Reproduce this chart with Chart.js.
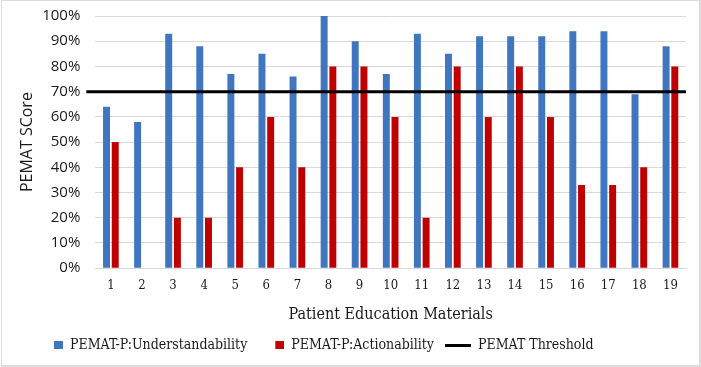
<!DOCTYPE html>
<html>
<head>
<meta charset="utf-8">
<script src="https://cdn.jsdelivr.net/npm/chart.js@4"></script>
<style>
    body { margin: 0; background: #fff; }
    #wrap { position: relative; width: 701px; height: 367px; }
    #frame {
        position: absolute; left: 1px; top: 0px; width: 697px; height: 364px;
        border: 1px solid #dcdcdc; border-right-width: 2px; border-bottom-width: 2px;
        pointer-events: none;
    }
</style>
</head>
<body>
<div id="wrap">
    <canvas id="pematChart" width="701" height="367"></canvas>
    <div id="frame"></div>
</div>
<script>
const materials = ['1', '2', '3', '4', '5', '6', '7', '8', '9', '10',
    '11', '12', '13', '14', '15', '16', '17', '18', '19'];
const understandability = [64, 58, 93, 88, 77, 85, 76, 100, 90, 77, 93, 85, 92, 92, 92, 94, 94, 69, 88];
const actionability = [50, 0, 20, 20, 40, 60, 40, 80, 80, 60, 20, 80, 60, 80, 60, 33, 33, 40, 80];
const threshold = 70;
const yTicks = [0, 10, 20, 30, 40, 50, 60, 70, 80, 90, 100];

document.addEventListener('DOMContentLoaded', function () {
    const serif = "'DejaVu Serif Condensed', 'DejaVu Serif', serif";
    const sans = "'Open Sans', sans-serif";

    // little legend markers: square for bars, thick bar for the threshold line
    function marker(color, kind) {
        const c = document.createElement('canvas');
        c.width = 30;
        c.height = 10;
        const g = c.getContext('2d');
        g.fillStyle = color;
        if (kind === 'line') {
            g.fillRect(4, 4, 26, 3);
        } else {
            g.fillRect(21, 1, 9, 8);
        }
        return c;
    }

    const thresholdLine = {
        id: 'thresholdLine',
        afterLayout(chart) {
            // legend in the original sits left of centre
            chart.legend.left += 8;
        },
        afterDatasetsDraw(chart) {
            const { ctx, chartArea, scales } = chart;
            const y = scales.y.getPixelForValue(threshold);
            ctx.save();
            ctx.strokeStyle = '#000';
            ctx.lineWidth = 3;
            ctx.beginPath();
            ctx.moveTo(chartArea.left - 9, y);
            ctx.lineTo(chartArea.right, y);
            ctx.stroke();
            ctx.restore();
        }
    };

    const ctx = document.getElementById('pematChart').getContext('2d');

    new Chart(ctx, {
        type: 'bar',
        data: {
            labels: materials,
            datasets: [{
                label: 'PEMAT-P:Understandability',
                data: understandability,
                backgroundColor: '#4075c0',
                pointStyle: marker('#4075c0', 'rect'),
                barPercentage: 0.8,
                categoryPercentage: 0.56
            }, {
                label: 'PEMAT-P:Actionability',
                data: actionability,
                backgroundColor: '#c00000',
                pointStyle: marker('#c00000', 'rect'),
                barPercentage: 0.8,
                categoryPercentage: 0.56
            }, {
                type: 'line',
                label: 'PEMAT Threshold',
                data: [],
                borderColor: '#000',
                backgroundColor: '#000',
                pointStyle: marker('#000', 'line')
            }]
        },
        options: {
            responsive: false,
            animation: false,
            layout: {
                padding: { top: 16, right: 15, bottom: 5, left: 18 }
            },
            plugins: {
                tooltip: { enabled: false },
                legend: {
                    position: 'bottom',
                    align: 'start',
                    labels: {
                        usePointStyle: true,
                        pointStyleWidth: 30,
                        padding: 7,
                        color: '#1a1a1a',
                        font: { family: serif, size: 14 }
                    }
                }
            },
            scales: {
                x: {
                    grid: { display: false },
                    border: { color: '#d9d9d9' },
                    ticks: {
                        color: '#1a1a1a',
                        padding: 2,
                        font: { family: serif, size: 13 }
                    },
                    title: {
                        display: true,
                        text: 'Patient Education Materials',
                        color: '#1a1a1a',
                        padding: { top: 9, bottom: 7 },
                        font: { family: serif, size: 16 }
                    }
                },
                y: {
                    min: 0,
                    max: 100,
                    afterBuildTicks(axis) {
                        axis.ticks = yTicks.map(v => ({ value: v }));
                    },
                    afterFit(axis) {
                        // let the layout padding decide where 100% sits
                        axis.paddingTop = 0;
                    },
                    grid: { color: '#d9d9d9', drawTicks: false },
                    border: { display: false },
                    ticks: {
                        color: '#1a1a1a',
                        padding: 15,
                        font: { family: sans, size: 15 },
                        callback: v => v + '%'
                    },
                    title: {
                        display: true,
                        text: 'PEMAT SCore',
                        color: '#1a1a1a',
                        padding: { top: 0, bottom: -10 },
                        font: { family: sans, size: 16 }
                    }
                }
            }
        },
        plugins: [thresholdLine]
    });
});
</script>
</body>
</html>
